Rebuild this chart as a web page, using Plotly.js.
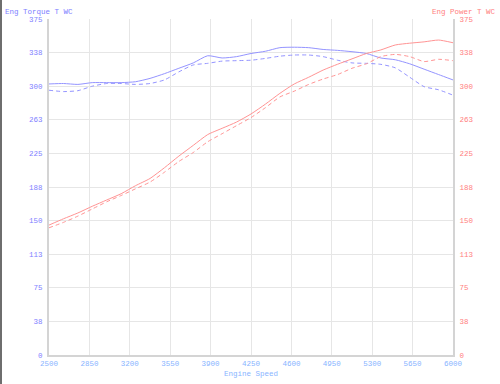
<!DOCTYPE html>
<html><head><meta charset="utf-8">
<script src="https://cdn.plot.ly/plotly-3.0.1.min.js"></script>
<style>
html,body{margin:0;padding:0;background:#fff;}
#wrap{position:relative;width:500px;height:384px;}
#bar{position:absolute;left:0;top:0;width:2px;height:384px;background:#6e6e6e;z-index:5;}
#chart{position:absolute;left:0;top:0;width:500px;height:384px;}
</style></head>
<body><div id="wrap"><div id="bar"></div><div id="chart"></div></div>
<script>
const rpm = [2500,2625,2750,2875,3000,3125,3250,3375,3500,3625,3750,3875,4000,4125,4250,4375,4500,4625,4750,4875,5000,5125,5250,5375,5500,5625,5750,5875,6000];
const torqueA = [302.5,303,302,304,304,304,305,308.7,314,320,326,334,331.5,333,336.5,339,343,343.5,343,341,340,338.5,336.5,331.5,329.5,325,319,313,307];
const torqueB = [295.5,294,295,300,303,303,302,303,307,316,323.7,325.5,328,328.5,329,331,333.5,334.8,334.8,333,329,326,325.5,324.4,320.5,310,299.5,296,290];
const powerA = [145,152,158.5,166,173,180,189,197,209,222,234,246,253,260,269,280,292,302.5,310,318,324.5,330.5,336.5,340.5,346,348,349.5,351.5,348.5];
const powerB = [142,148,155,163,171,178,185.5,193,204,216,226,238,247,256,265,276,288,294.5,302,308,313,320,325,333,335.5,333,327.5,330,328.5];
const xTicks = [2500,2850,3200,3550,3900,4250,4600,4950,5300,5650,6000];
const yTicks = [0,37.5,75,112.5,150,187.5,225,262.5,300,337.5,375];
const yTickText = ['0','38','75','113','150','188','225','263','300','338','375'];

const blue = '#9494ff', red = '#ff9494';
const mono = 'Liberation Mono, DejaVu Sans Mono, monospace';
const fs = 7.5;

const traces = [
  {x: rpm, y: torqueA, mode:'lines', line:{color:blue, width:1, shape:'spline', smoothing:0.6}, yaxis:'y', hoverinfo:'skip'},
  {x: rpm, y: torqueB, mode:'lines', line:{color:blue, width:1, dash:'4px,3px', shape:'spline', smoothing:0.6}, yaxis:'y', hoverinfo:'skip'},
  {x: rpm, y: powerA, mode:'lines', line:{color:red, width:1, shape:'spline', smoothing:0.6}, yaxis:'y2', hoverinfo:'skip'},
  {x: rpm, y: powerB, mode:'lines', line:{color:red, width:1, dash:'4px,3px', shape:'spline', smoothing:0.6}, yaxis:'y2', hoverinfo:'skip'}
];

const layout = {
  width:500, height:384,
  margin:{l:49, r:47, t:19, b:29, pad:0},
  paper_bgcolor:'#fff', plot_bgcolor:'#fff',
  showlegend:false,
  xaxis:{range:[2500,6000], tickvals:xTicks, ticktext:xTicks.map(String),
    showgrid:true, gridcolor:'#e6e6e6', gridwidth:1, zeroline:false,
    showline:true, linecolor:'#d4d4d4', linewidth:2,
    ticks:'', ticklen:0,
    tickfont:{family:mono, size:fs, color:'#88b4ff'}},
  yaxis:{range:[0,375], tickvals:yTicks, ticktext:yTickText,
    showgrid:true, gridcolor:'#e6e6e6', gridwidth:1, zeroline:false,
    showline:true, linecolor:'#d4d4d4', linewidth:2,
    ticks:'outside', ticklen:3, tickcolor:'rgba(0,0,0,0)',
    tickfont:{family:mono, size:fs, color:'#8080ff'}},
  yaxis2:{range:[0,375], tickvals:yTicks, ticktext:yTickText, overlaying:'y', side:'right',
    showgrid:false, zeroline:false,
    showline:true, linecolor:'#d4d4d4', linewidth:2,
    ticks:'outside', ticklen:3, tickcolor:'rgba(0,0,0,0)',
    tickfont:{family:mono, size:fs, color:'#ff8080'}},
  annotations:[
    {text:'Eng Torque T WC', xref:'paper', yref:'paper', x:-0.1139, y:1.0217, xanchor:'left', yanchor:'middle', showarrow:false, font:{family:mono, size:fs, color:'#8080ff'}},
    {text:'Eng Power T WC', xref:'paper', yref:'paper', x:1.111, y:1.0217, xanchor:'right', yanchor:'middle', showarrow:false, font:{family:mono, size:fs, color:'#ff8080'}},
    {text:'Engine Speed', xref:'paper', yref:'paper', x:0.5, y:-0.056, xanchor:'center', yanchor:'middle', showarrow:false, font:{family:mono, size:fs, color:'#88b4ff'}}
  ]
};
Plotly.newPlot('chart', traces, layout, {staticPlot:true, displayModeBar:false});
</script></body></html>
